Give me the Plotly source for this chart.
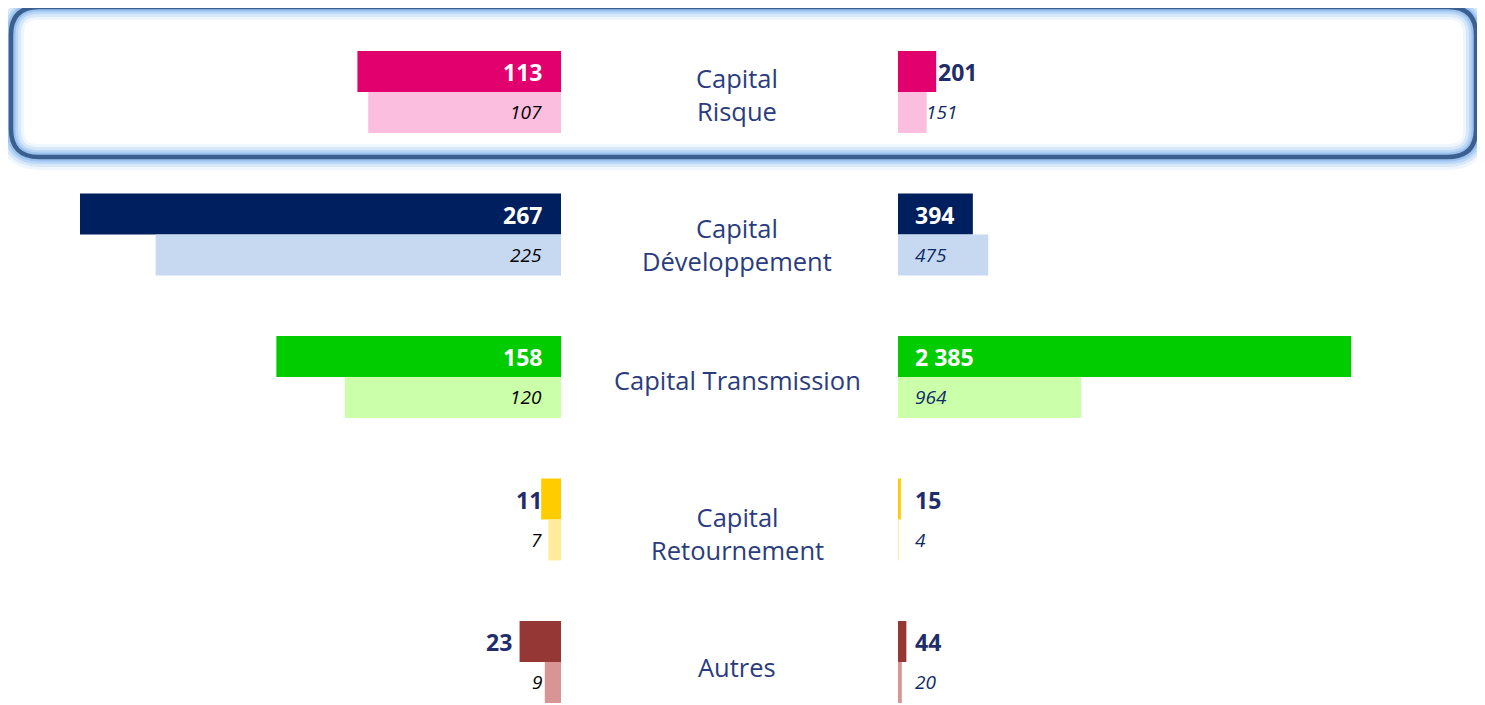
import plotly.graph_objects as go

# categories (center labels) and values
categories = ["Capital<br>Risque", "Capital<br>Développement", "Capital Transmission",
              "Capital<br>Retournement", "Autres"]
left_current = [113, 267, 158, 11, 23]
left_previous = [107, 225, 120, 7, 9]
right_current = [201, 394, 2385, 15, 44]
right_previous = [151, 475, 964, 4, 20]

dark_colors = ["#E2006F", "#001F5F", "#00CC00", "#FFCC00", "#953735"]
light_colors = ["#FCBEDF", "#C6D9F1", "#CCFFAA", "#FFEB9C", "#D99594"]

# the page body adds an 8px margin, so the figure is drawn 8px smaller
PAD = 8
W, H = 1485 - PAD, 705 - PAD
FONT = "Open Sans"
NAVY = "#1F2D6B"
BAR_W = 41 / 142.5
# vertical nudge of the centre text boxes (placed by hand in the original)
label_shift = [-2, -10, -3, -14, -5]


def fmt(v):
    return f"{v:,}".replace(",", " ")


fig = go.Figure()

for vals, cols, off, ax in [
    (left_current, dark_colors, -BAR_W, "x"),
    (left_previous, light_colors, 0, "x"),
    (right_current, dark_colors, -BAR_W, "x2"),
    (right_previous, light_colors, 0, "x2"),
]:
    fig.add_trace(go.Bar(
        x=vals, y=categories, orientation="h",
        marker=dict(color=cols, line=dict(width=0)),
        width=BAR_W, offset=off, xaxis=ax, yaxis="y",
        hoverinfo="skip", showlegend=False,
    ))

# value labels
annotations = []
for i, cat in enumerate(categories):
    # left panel, current (bold)
    v = left_current[i]
    big = v >= 100
    if v == 23:
        ax_x, shift = v, -6
    else:
        ax_x, shift = 0, -17
    annotations.append(dict(
        x=ax_x, y=cat, xref="x", yref="y", xanchor="right", xshift=shift, yshift=20,
        text=f"<b>{fmt(v)}</b>", showarrow=False,
        font=dict(family=FONT, size=23, color="white" if big else NAVY)))
    # left panel, previous (italic)
    v = left_previous[i]
    annotations.append(dict(
        x=0, y=cat, xref="x", yref="y", xanchor="right", xshift=-17, yshift=-20,
        text=f"<i>{fmt(v)}</i>", showarrow=False,
        font=dict(family=FONT, size=19, color="black")))
    # right panel, current
    v = right_current[i]
    big = v >= 300
    if v == 201:
        ax_x, shift = v, 0
    else:
        ax_x, shift = 0, 15
    annotations.append(dict(
        x=ax_x, y=cat, xref="x2", yref="y", xanchor="left", xshift=shift, yshift=20,
        text=f"<b>{fmt(v)}</b>", showarrow=False,
        font=dict(family=FONT, size=23, color="white" if big else NAVY)))
    # right panel, previous
    v = right_previous[i]
    if v == 151:
        ax_x, shift = v, -3
    else:
        ax_x, shift = 0, 15
    annotations.append(dict(
        x=ax_x, y=cat, xref="x2", yref="y", xanchor="left", xshift=shift, yshift=-20,
        text=f"<i>{fmt(v)}</i>", showarrow=False,
        font=dict(family=FONT, size=19, color="#0F2A66")))
    # center category label
    annotations.append(dict(
        x=(737 - PAD) / W, y=cat, xref="paper", yref="y", xanchor="center", yanchor="middle",
        yshift=label_shift[i], text=cat, showarrow=False,
        font=dict(family=FONT, size=25.5, color="#2B3C7E")))


def rounded_rect(x0, y0, x1, y1, r):
    # screen pixel coordinates -> paper path
    def p(x, y):
        return f"{(x - PAD) / W:.5f},{1 - (y - PAD) / H:.5f}"
    return (f"M {p(x0 + r, y0)} L {p(x1 - r, y0)} Q {p(x1, y0)} {p(x1, y0 + r)} "
            f"L {p(x1, y1 - r)} Q {p(x1, y1)} {p(x1 - r, y1)} "
            f"L {p(x0 + r, y1)} Q {p(x0, y1)} {p(x0, y1 - r)} "
            f"L {p(x0, y0 + r)} Q {p(x0, y0)} {p(x0 + r, y0)} Z")


shapes = []
path = rounded_rect(11, 7, 1476, 157, 28)
for width, color in [(26, "rgba(190,218,248,0.25)"), (20, "rgba(180,212,246,0.4)"),
                     (14, "rgba(168,204,244,0.6)"), (9, "rgba(150,190,238,0.85)"),
                     (4.5, "#3B5F8E")]:
    shapes.append(dict(type="path", path=path, xref="paper", yref="paper",
                       line=dict(color=color, width=width), layer="below"))

fig.update_layout(
    width=W, height=H,
    margin=dict(l=0, r=0, t=0, b=0),
    paper_bgcolor="white", plot_bgcolor="rgba(0,0,0,0)",
    barmode="overlay",
    xaxis=dict(domain=[0, (561 - PAD) / W], range=[(561 - PAD) / 1.8015, 0],
               visible=False, fixedrange=True),
    xaxis2=dict(domain=[(898 - PAD) / W, 1], range=[0, (W - 898 + PAD) / 0.18994],
                visible=False, anchor="y", fixedrange=True),
    yaxis=dict(type="category", categoryorder="array", categoryarray=categories,
               range=[4 + (H - 662 + PAD) / 142.5, -(92 - PAD) / 142.5],
               visible=False, fixedrange=True),
    annotations=annotations,
    shapes=shapes,
)

fig.write_html("out.html")
